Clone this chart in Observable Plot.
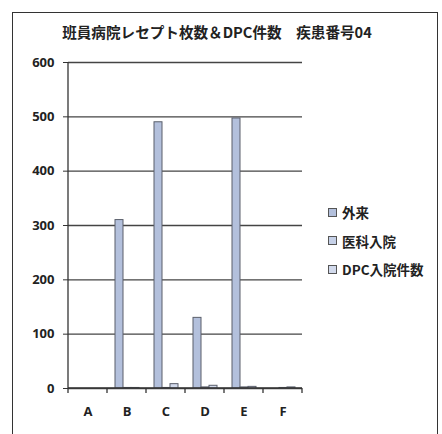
<!DOCTYPE html>
<html><head><meta charset="utf-8">
<script src="https://cdn.jsdelivr.net/npm/d3@7"></script>
<script src="https://cdn.jsdelivr.net/npm/@observablehq/plot@0.6"></script>
<style>
body{margin:0;background:#fff;}
#wrap{position:relative;width:442px;height:434px;overflow:hidden;font-family:"Noto Sans CJK JP","Open Sans",sans-serif;}
#border{position:absolute;left:12px;top:12px;width:426px;height:440px;border:1.5px solid #333;box-sizing:border-box;}
#title{position:absolute;left:-4px;width:442px;top:21px;text-align:center;white-space:nowrap;font-size:14.6px;font-weight:700;color:#222;}
#legend{position:absolute;left:328px;top:198px;font-size:13.5px;font-weight:700;color:#222;}
#legend div{height:28.5px;display:flex;align-items:center;}
#legend span.sw{display:inline-block;width:7px;height:7px;border:1px solid #555;margin-right:5px;}
#chart{position:absolute;left:0;top:0;}
</style></head>
<body>
<div id="wrap">
<div id="chart"></div>
<div id="border"></div>
<div id="title">班員病院レセプト枚数＆DPC件数　疾患番号04</div>
<div id="legend"></div>
</div>
<script>
const categories = ["A","B","C","D","E","F"];
const series = ["外来","医科入院","DPC入院件数"];
const outpatient = [0,310,490,130,497,0];
const inpatient = [0,1,1,2,2,1];
const dpcCount = [0,1,8,5,3,2];
const yTicks = [0,100,200,300,400,500,600];
const colors = ["#b3c0dc","#c6d1e8","#d2daec"];

const rows = [];
categories.forEach((c,i)=>{
  rows.push({cat:c, s:series[0], v:outpatient[i]});
  rows.push({cat:c, s:series[1], v:inpatient[i]});
  rows.push({cat:c, s:series[2], v:dpcCount[i]});
});

const plot = Plot.plot({
  width:442, height:434,
  marginTop:62, marginBottom:46, marginLeft:66, marginRight:139,
  style:{fontFamily:'"Open Sans",sans-serif', fontSize:"13px", fontWeight:"700", color:"#222", background:"transparent"},
  fx:{domain:categories, padding:0, label:null},
  x:{domain:series, paddingInner:0, paddingOuter:0.68, axis:null},
  y:{domain:[0,600], ticks:yTicks, label:null},
  color:{domain:series, range:colors},
  marks:[
    Plot.ruleY(yTicks, {stroke:"#444", strokeWidth:1.3}),
    Plot.barY(rows, {fx:"cat", x:"s", y:"v", fill:"s", stroke:"#5a5f6b", strokeWidth:1}),
    Plot.axisY({ticks:yTicks, tickSize:5, tickPadding:9, stroke:"#333", fontWeight:700, fontSize:13, tickFormat:d=>d}),
    Plot.axisFx({anchor:"bottom", tickSize:0, tickPadding:18, fontWeight:700, fontSize:13, label:null})
  ]
});
document.getElementById("chart").appendChild(plot);

// axis lines and boundary ticks drawn from the plot's own scales
const fx = plot.scale("fx"), y = plot.scale("y");
const svg = d3.select(plot);
const x0 = fx.apply(categories[0]);
const bw = fx.bandwidth;
const xEnd = fx.apply(categories[categories.length-1]) + bw;
const g = svg.append("g").attr("stroke","#333").attr("stroke-width",1.3);
g.append("line").attr("x1",x0).attr("x2",x0).attr("y1",y.apply(600)).attr("y2",y.apply(0)+5);
g.append("line").attr("x1",x0).attr("x2",xEnd).attr("y1",y.apply(0)).attr("y2",y.apply(0));
categories.forEach(c=>{
  const xb = fx.apply(c);
  g.append("line").attr("x1",xb+bw).attr("x2",xb+bw).attr("y1",y.apply(0)).attr("y2",y.apply(0)+5);
});

const leg = document.getElementById("legend");
series.forEach((s,i)=>{
  const d = document.createElement("div");
  d.innerHTML = `<span class="sw" style="background:${colors[i]}"></span>${s}`;
  leg.appendChild(d);
});
</script>
</body></html>
